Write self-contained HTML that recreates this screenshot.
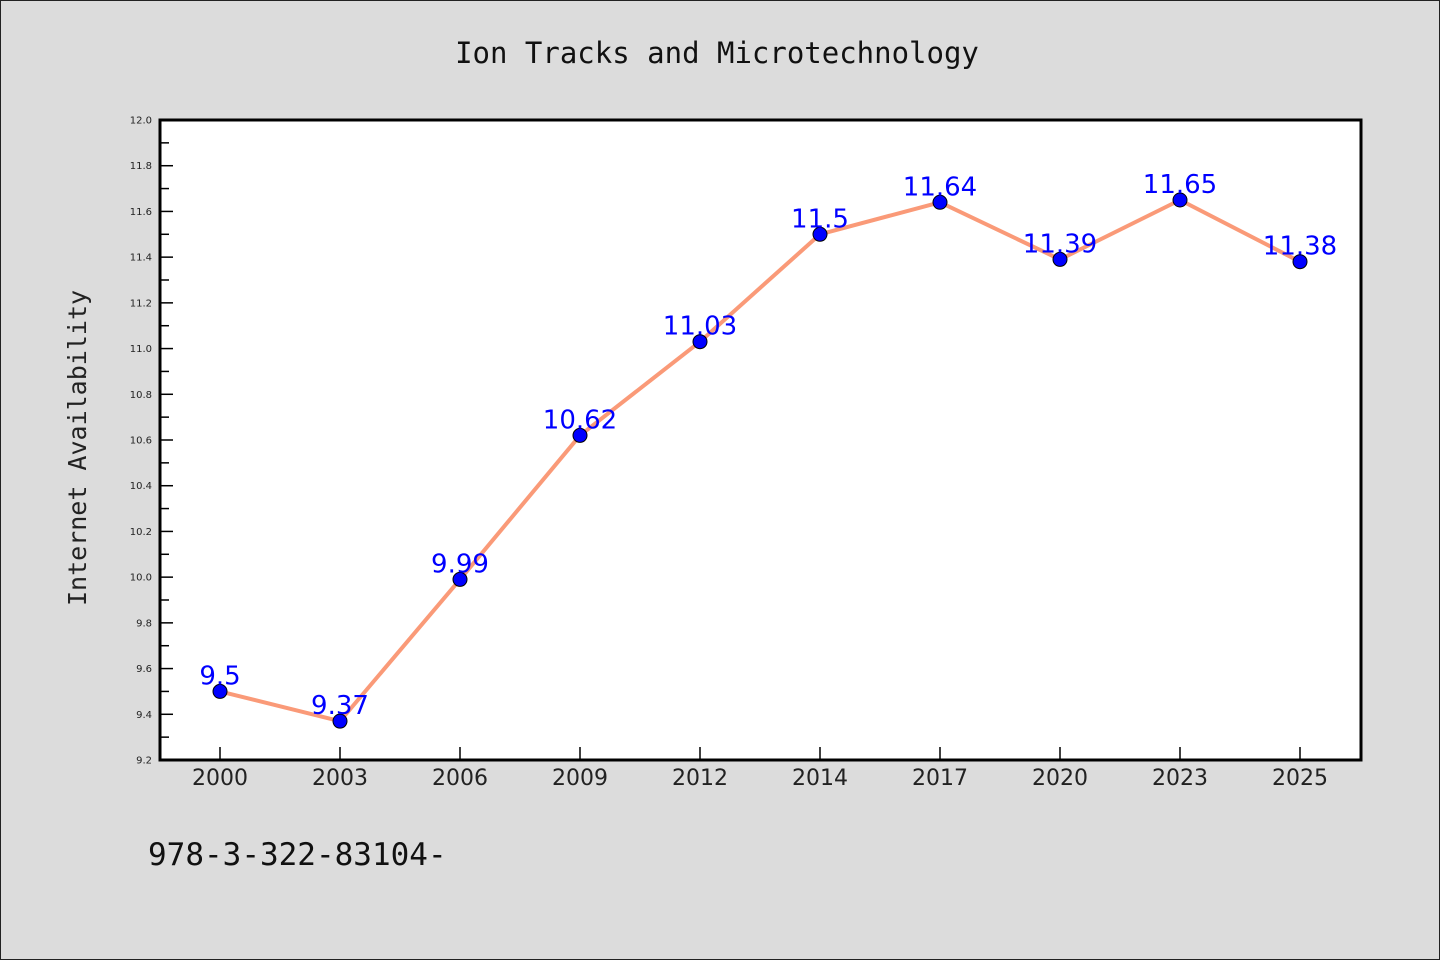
<!DOCTYPE html>
<html><head><meta charset="utf-8"><style>
html,body{margin:0;padding:0;background:#dcdcdc;}
svg{display:block;}
</style></head><body>
<svg width="1440" height="960" xmlns="http://www.w3.org/2000/svg">
<rect x="0.5" y="0.5" width="1439" height="959" fill="#dcdcdc" stroke="#222"/>
<text x="717" y="63" text-anchor="middle" font-family="DejaVu Sans Mono, Liberation Mono, monospace" font-size="29" fill="#111">Ion Tracks and Microtechnology</text>
<rect x="160" y="120" width="1201" height="640" fill="#fff"/>
<g id="yaxis"></g>
<g id="xaxis"></g>
<g id="series"></g>
<rect x="160" y="120" width="1201" height="640" fill="none" stroke="#000" stroke-width="3"/>
<text x="86" y="448" transform="rotate(-90 86 448)" text-anchor="middle" font-family="DejaVu Sans Mono, Liberation Mono, monospace" font-size="25" fill="#222">Internet Availability</text>
<text x="148" y="865" font-family="DejaVu Sans Mono, Liberation Mono, monospace" font-size="31" fill="#111">978-3-322-83104-</text>
</svg>
<script>
const categories = ["2000","2003","2006","2009","2012","2014","2017","2020","2023","2025"];
const values = [9.5, 9.37, 9.99, 10.62, 11.03, 11.5, 11.64, 11.39, 11.65, 11.38];
const yTicks = ["9.2","9.4","9.6","9.8","10.0","10.2","10.4","10.6","10.8","11.0","11.2","11.4","11.6","11.8","12.0"];
const NS = "http://www.w3.org/2000/svg";
const yMin = 9.2, yMax = 12.0, plotTop = 120, plotBottom = 760, plotLeft = 160;
function yScale(v){ return plotBottom - (v - yMin) / (yMax - yMin) * (plotBottom - plotTop); }
function xScale(i){ return 220 + i * 120; }
function mk(tag, attrs, parent){ const e = document.createElementNS(NS, tag); for (const k in attrs) e.setAttribute(k, attrs[k]); parent.appendChild(e); return e; }
const ya = document.getElementById('yaxis');
yTicks.forEach((t) => {
  const v = parseFloat(t), y = yScale(v);
  const l = mk('line', {x1:plotLeft, x2:plotLeft+13, y1:y, y2:y, stroke:'#000', 'stroke-width':1.5}, ya);
  
  
  const tx = mk('text', {x:152, y:y+3.5, 'text-anchor':'end', 'font-family':'DejaVu Sans, sans-serif', 'font-size':10, fill:'#222'}, ya);
  tx.textContent = t;
  
  
  if (v < yMax - 0.01) {
    const ym = yScale(v + 0.1);
    const m = mk('line', {x1:plotLeft, x2:plotLeft+9, y1:ym, y2:ym, stroke:'#000', 'stroke-width':1.5}, ya);
    
    
  }
});
const xa = document.getElementById('xaxis');
categories.forEach((c, i) => {
  const x = xScale(i);
  const l = mk('line', {x1:x, x2:x, y1:plotBottom, y2:plotBottom-13, stroke:'#000', 'stroke-width':1.5}, xa);
  
  
  const tx = mk('text', {x:x, y:785, 'text-anchor':'middle', 'font-family':'DejaVu Sans, sans-serif', 'font-size':22, fill:'#222'}, xa);
  tx.textContent = c;
  
  
});
const s = document.getElementById('series');
const pts = values.map((v, i) => xScale(i) + ',' + yScale(v)).join(' ');
const pl = mk('polyline', {points:pts, fill:'none', stroke:'#fa9a78', 'stroke-width':4, 'stroke-linejoin':'round'}, s);


values.forEach((v, i) => {
  const c = mk('circle', {cx:xScale(i), cy:yScale(v), r:7, fill:'#0000ff', stroke:'#000', 'stroke-width':1}, s);
  
  
  const t = mk('text', {x:xScale(i), y:yScale(v)-7, 'text-anchor':'middle', 'font-family':'DejaVu Sans, sans-serif', 'font-size':26, fill:'#0000ff'}, s);
  t.textContent = String(v);
  
  
});
</script>
</body></html>
